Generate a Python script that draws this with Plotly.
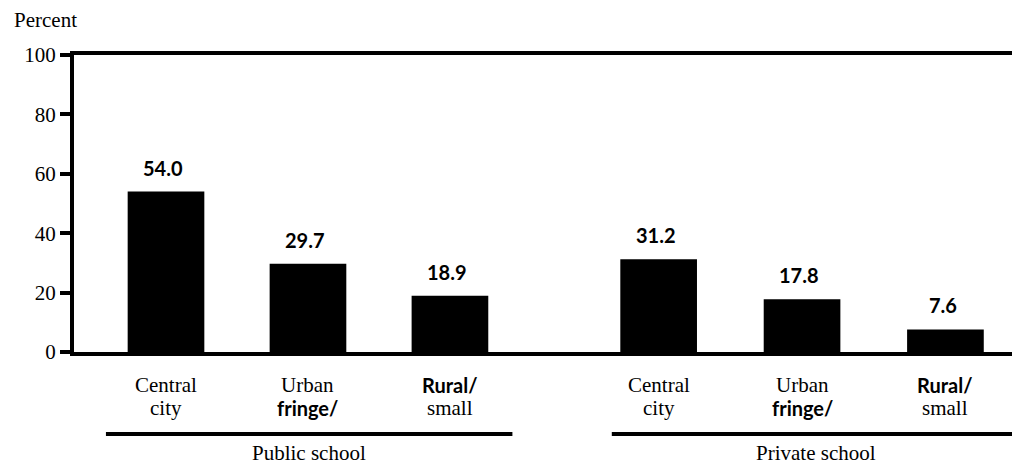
import plotly.graph_objects as go

# ---- data ----
groups = ["Public school", "Private school"]
categories_line1 = ["Central", "Urban", "Rural/"]
categories_line2 = ["city", "fringe/", "small"]
public_values = [54.0, 29.7, 18.9]
private_values = [31.2, 17.8, 7.6]
value_labels_public = ["54.0", "29.7", "18.9"]
value_labels_private = ["31.2", "17.8", "7.6"]
y_ticks = [0, 20, 40, 60, 80, 100]

# ---- layout helpers ----
group_offsets = [1.0, 4.47]
pos_public = [group_offsets[0] + i * 1.0 for i in range(3)]
pos_private = [group_offsets[1] + i * 1.01 for i in range(3)]
positions = pos_public + pos_private
values = public_values + private_values
vlabels = value_labels_public + value_labels_private

SERIF = "Liberation Serif"
BOLDSANS = "Lato"

fig = go.Figure()
fig.add_trace(go.Bar(
    x=positions, y=values, width=0.54,
    marker=dict(color="black", line=dict(width=0)),
    hoverinfo="skip", showlegend=False,
))

annotations = []
for x, v, t in zip(positions, values, vlabels):
    annotations.append(dict(
        x=x - 0.02, y=v, xref="x", yref="y", text=f"<b>{t}</b>", showarrow=False,
        yshift=24, yanchor="middle", xanchor="center",
        font=dict(family=BOLDSANS, size=20, color="black"),
    ))

bold_words = {"fringe/", "Rural/"}
for x_list in (pos_public, pos_private):
    for x, l1, l2 in zip(x_list, categories_line1, categories_line2):
        for txt, shift in ((l1, -33), (l2, -56)):
            if txt in bold_words:
                text, fam, size = f"<b>{txt}</b>", BOLDSANS, 20
            else:
                text, fam, size = txt, SERIF, 21
            annotations.append(dict(
                x=x, y=0, xref="x", yref="paper", text=text, showarrow=False,
                yshift=shift, yanchor="middle", xanchor="center",
                font=dict(family=fam, size=size, color="black"),
            ))

group_label_x = [2.01, 5.58]
for gx, g in zip(group_label_x, groups):
    annotations.append(dict(
        x=gx, y=0, xref="x", yref="paper", text=g, showarrow=False,
        yshift=-101, yanchor="middle", xanchor="center",
        font=dict(family=SERIF, size=21, color="black"),
    ))

annotations.append(dict(
    x=0, y=1, xref="paper", yref="paper", text="Percent", showarrow=False,
    xshift=-62, yshift=35, xanchor="left", yanchor="middle",
    font=dict(family=SERIF, size=21, color="black"),
))

shapes = [
    dict(type="line", xref="x", yref="paper", x0=0.577, x1=3.44, y0=-0.276, y1=-0.276,
         line=dict(color="black", width=4)),
    dict(type="line", xref="x", yref="paper", x0=4.14, x1=7.02, y0=-0.276, y1=-0.276,
         line=dict(color="black", width=4)),
]

fig.update_layout(
    width=1020, height=464,
    margin=dict(l=66, r=13, t=47, b=120),
    paper_bgcolor="white", plot_bgcolor="white",
    annotations=annotations, shapes=shapes,
    xaxis=dict(range=[0.352, 6.98], showgrid=False, zeroline=False,
               showticklabels=False, ticks="",
               showline=True, linecolor="black", linewidth=4, mirror=True),
    yaxis=dict(range=[0, 100], tickvals=y_ticks, showgrid=False, zeroline=False,
               showline=True, linecolor="black", linewidth=4,
               ticks="outside", ticklen=10, tickwidth=4, tickcolor="black",
               tickfont=dict(family=SERIF, size=21, color="black")),
)

fig.write_html("out.html")
